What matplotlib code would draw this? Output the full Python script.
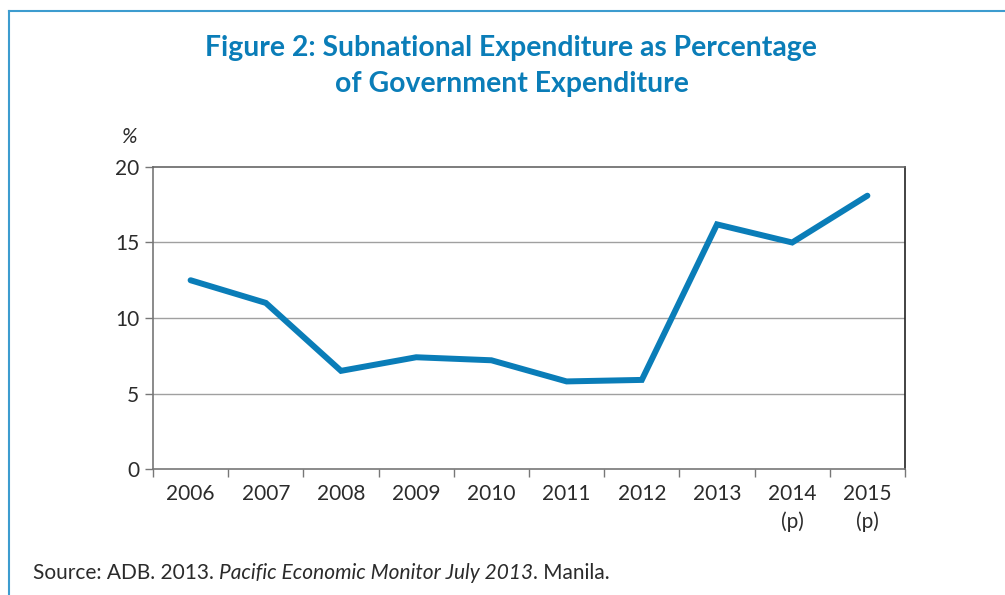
import matplotlib
matplotlib.use("Agg")
import matplotlib.pyplot as plt
from matplotlib.lines import Line2D

years = ["2006", "2007", "2008", "2009", "2010", "2011", "2012", "2013", "2014\n(p)", "2015\n(p)"]
values = [12.5, 11.0, 6.5, 7.4, 7.2, 5.8, 5.9, 16.2, 15.0, 18.1]
yticks = [0, 5, 10, 15, 20]

W, H = 1005, 595
fig = plt.figure(figsize=(W / 100, H / 100), dpi=100)
plt.rcParams['font.family'] = ['Lato', 'DejaVu Sans']

FS = 15
TC = "#2b2b2b"

# frame lines (top and left)
fig.add_artist(Line2D([9 / W, 1], [1 - 11 / H, 1 - 11 / H], color="#3d9ccf", lw=1.5, transform=fig.transFigure))
fig.add_artist(Line2D([9 / W, 9 / W], [0, 1 - 11 / H], color="#3d9ccf", lw=1.5, transform=fig.transFigure))

ax = fig.add_axes([153 / W, 1 - 469 / H, (905 - 153) / W, (469 - 167) / H])
x = list(range(len(values)))
ax.plot(x, values, color="#0a7db8", lw=4.3, solid_capstyle="round", solid_joinstyle="miter", zorder=3)

ax.set_xlim(-0.5, len(values) - 0.5)
ax.set_ylim(0, 20)
ax.set_yticks(yticks)
ax.set_yticklabels([str(v) for v in yticks], fontsize=FS, color=TC)
ax.set_xticks(x)
ax.set_xticklabels(years, fontsize=FS, color=TC, linespacing=1.4)
ax.set_xticks([i - 0.5 for i in range(len(values) + 1)], minor=True)
ax.tick_params(axis="x", which="major", length=0, pad=11)
ax.tick_params(axis="x", which="minor", length=6, color="#777777", width=1)
ax.tick_params(axis="y", length=6, color="#777777", width=1, pad=4)

for v in [5, 10, 15]:
    ax.axhline(v, color="#a0a0a0", lw=1, zorder=1)

for s in ["left", "bottom"]:
    ax.spines[s].set_color("#777777")
    ax.spines[s].set_linewidth(1.2)
ax.spines["top"].set_color("#666666")
ax.spines["top"].set_linewidth(1.2)
ax.spines["right"].set_color("#222222")
ax.spines["right"].set_linewidth(1.2)

fig.text(129 / W, 1 - 137 / H, "%", fontsize=FS, style="italic", color=TC, ha="center", va="center")

fig.text(511 / W, 1 - 48 / H, "Figure 2: Subnational Expenditure as Percentage", fontsize=20.4,
         fontweight="bold", color="#0a7db8", ha="center", va="center")
fig.text(512 / W, 1 - 84 / H, "of Government Expenditure", fontsize=20.4,
         fontweight="bold", color="#0a7db8", ha="center", va="center")

renderer = fig.canvas.get_renderer()
t1 = fig.text(33 / W, 1 - 573 / H, "Source: ADB. 2013. ", fontsize=FS, color=TC, ha="left", va="center")
bb = t1.get_window_extent(renderer)
t2 = fig.text(bb.x1 / W, 1 - 573 / H, "Pacific Economic Monitor July 2013", fontsize=FS, style="italic",
              color=TC, ha="left", va="center")
bb2 = t2.get_window_extent(renderer)
fig.text(bb2.x1 / W, 1 - 573 / H, ". Manila.", fontsize=FS, color=TC, ha="left", va="center")

fig.savefig("out.png", dpi=100)
